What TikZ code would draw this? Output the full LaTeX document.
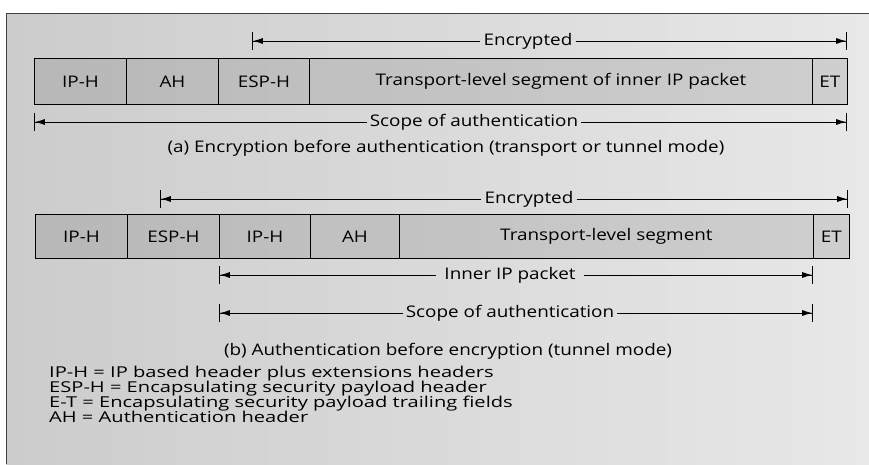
\documentclass[tikz,border=0pt]{standalone}
\usepackage{fontspec}
\setmainfont[FakeStretch=1.18]{Open Sans}
\newfontfamily\legfont[FakeStretch=1.34]{Open Sans}
\usetikzlibrary{arrows.meta}
\begin{document}
\begin{tikzpicture}[x=1pt,y=-1pt,
  seg/.style={draw=black, line width=0.9pt, fill=black, fill opacity=0.10, text opacity=1,
              inner sep=0pt, anchor=north west, font=\fontsize{16}{18}\selectfont},
  rowa/.style={seg, minimum height=46pt},
  rowb/.style={seg, minimum height=44pt},
  lbl/.style={inner sep=3pt, font=\fontsize{16}{18}\selectfont},
  legend/.style={inner sep=0pt, anchor=base west, font=\legfont\fontsize{15}{15}\selectfont},
  ltip/.style={line width=0.8pt, {Bar[width=18pt,line width=0.9pt]Latex[length=10pt,width=6pt]}-},
  rtip/.style={line width=0.8pt, -{Latex[length=10pt,width=6pt]Bar[width=18pt,line width=0.9pt]}},
  ]
\useasboundingbox (0,0) rectangle (869,464);
\shade[left color=gray!40, right color=gray!18] (6,13) rectangle (869,464);
\draw[line width=1pt, black!75] (6,464) -- (6,13) -- (869,13);

% ---------- (a) ----------
\node[rowa, minimum width=92pt] (a1) at (34,58) {IP-H};
\node[rowa, minimum width=92pt] (a2) at (126,58) {AH};
\node[rowa, minimum width=91pt] (a3) at (218,58) {ESP-H};
\node[rowa, minimum width=503pt] (a4) at (309,58) {Transport-level segment of inner IP packet};
\node[rowa, minimum width=35pt] (a5) at (812,58) {ET};

\coordinate (eaL) at (252,41);
\coordinate (eaR) at (847,41);
\node[lbl] (encA) at (528,41) {Encrypted};
\draw[ltip] (eaL) -- (encA.west);
\draw[rtip] (encA.east) -- (eaR);

\coordinate (saL) at (34,122);
\coordinate (saR) at (847,122);
\node[lbl] (scA) at (474,122) {Scope of authentication};
\draw[ltip] (saL) -- (scA.west);
\draw[rtip] (scA.east) -- (saR);

\node[lbl] (capA) at (446,148) {(a) Encryption before authentication (transport or tunnel mode)};

% ---------- (b) ----------
\node[rowb, minimum width=92pt] (b1) at (35,214) {IP-H};
\node[rowb, minimum width=92pt] (b2) at (127,214) {ESP-H};
\node[rowb, minimum width=91pt] (b3) at (219,214) {IP-H};
\node[rowb, minimum width=89pt] (b4) at (310,214) {AH};
\node[rowb, minimum width=414pt] (b5) at (399,214) {Transport-level segment};
\node[rowb, minimum width=36pt] (b6) at (813,214) {ET};

\coordinate (ebL) at (160,199);
\coordinate (ebR) at (848,199);
\node[lbl] (encB) at (529,199) {Encrypted};
\draw[ltip] (ebL) -- (encB.west);
\draw[rtip] (encB.east) -- (ebR);

\coordinate (ipL) at (219,275);
\coordinate (ipR) at (813,275);
\node[lbl, inner xsep=8pt] (inIP) at (510,275) {Inner IP packet};
\draw[ltip] (ipL) -- (inIP.west);
\draw[rtip] (inIP.east) -- (ipR);

\coordinate (sbL) at (219,313);
\coordinate (sbR) at (813,313);
\node[lbl] (scB) at (510,313) {Scope of authentication};
\draw[ltip] (sbL) -- (scB.west);
\draw[rtip] (scB.east) -- (sbR);

\node[lbl] (capB) at (448,351) {(b) Authentication before encryption (tunnel mode)};

% ---------- legend ----------
\node[legend] (l1) at (49,377) {IP-H = IP based header plus extensions headers};
\node[legend] (l2) at (49,392) {ESP-H = Encapsulating security payload header};
\node[legend] (l3) at (49,407) {E-T = Encapsulating security payload trailing fields};
\node[legend] (l4) at (49,422) {AH = Authentication header};
\end{tikzpicture}
\end{document}
